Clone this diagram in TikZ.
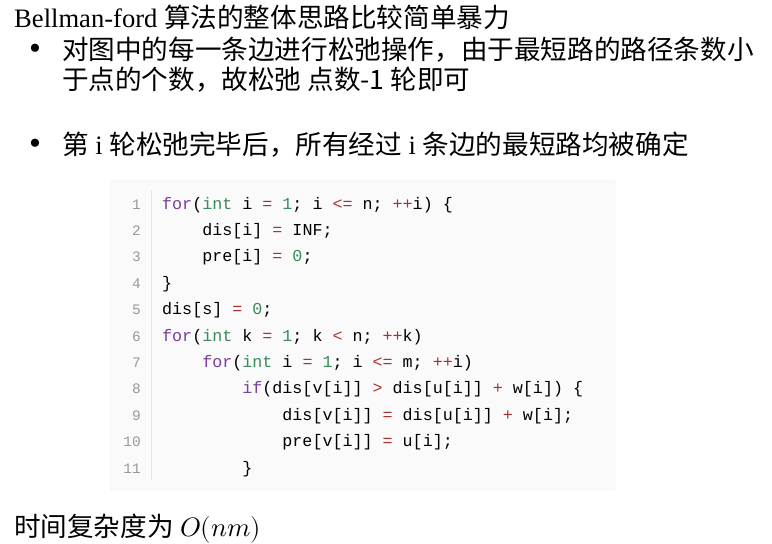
\documentclass[tikz,border=0pt]{standalone}
\usepackage{fontspec}
\setmainfont{Liberation Serif}
\setmonofont{Liberation Mono}
\newfontfamily\cjk{Noto Sans CJK SC}
\usepackage{unicode-math}
\definecolor{kwc}{HTML}{7A3E9D}
\definecolor{tyc}{HTML}{3A8A5A}
\definecolor{opc}{HTML}{A83232}
\definecolor{lnc}{HTML}{999999}
\newcommand{\kw}[1]{\textcolor{kwc}{#1}}
\newcommand{\ty}[1]{\textcolor{tyc}{#1}}
\newcommand{\op}[1]{\textcolor{opc}{#1}}
\begin{document}
\begin{tikzpicture}[x=1pt,y=-1pt,
  txt/.style={anchor=base west,inner sep=0,font=\fontsize{26.6}{30}\selectfont},
  code/.style={anchor=base west,inner sep=0,font=\ttfamily\fontsize{16.7}{18}\selectfont},
  lno/.style={anchor=base east,inner sep=0,text=lnc,font=\ttfamily\fontsize{14.5}{16}\selectfont}]
\useasboundingbox (0,0) rectangle (772,544);
\node[txt] (t1) at (14,27) {Bellman-ford {\cjk 算法的整体思路比较简单暴力}};
\node[txt] (b1) at (29,59) {\fontsize{34}{34}\selectfont •};
\node[txt] (l1) at (62,59) {\cjk 对图中的每一条边进行松弛操作，由于最短路的路径条数小};
\node[txt] (l2) at (62,89) {\cjk 于点的个数，故松弛 点数-1 轮即可};
\node[txt] (b2) at (29,154) {\fontsize{34}{34}\selectfont •};
\node[txt] (l3) at (62,154) {{\cjk 第} i {\cjk 轮松弛完毕后，所有经过} i {\cjk 条边的最短路均被确定}};
\node[txt] (t2) at (14,536) {{\cjk 时间复杂度为} $O(nm)$};
\draw[draw=black!6,fill=black!2,rounded corners=2pt] (110,180) rectangle (615,490);
\draw[black!10,line width=1pt] (151,190) -- (151,480);
\foreach \n in {1,...,11}{\node[lno] (n\n) at (141,{209+(\n-1)*26.4}) {\n};}
\node[code] (c1) at (162,209) {\kw{for}(\ty{int} i \op{=} \ty{1}; i \op{<=} n; \op{++}i) \{};
\node[code] (c2) at (162,235.4) {\ \ \ \ dis[i] \op{=} INF;};
\node[code] (c3) at (162,261.8) {\ \ \ \ pre[i] \op{=} \ty{0};};
\node[code] (c4) at (162,288.2) {\}};
\node[code] (c5) at (162,314.6) {dis[s] \op{=} \ty{0};};
\node[code] (c6) at (162,341) {\kw{for}(\ty{int} k \op{=} \ty{1}; k \op{<} n; \op{++}k)};
\node[code] (c7) at (162,367.4) {\ \ \ \ \kw{for}(\ty{int} i \op{=} \ty{1}; i \op{<=} m; \op{++}i)};
\node[code] (c8) at (162,393.8) {\ \ \ \ \ \ \ \ \kw{if}(dis[v[i]] \op{>} dis[u[i]] \op{+} w[i]) \{};
\node[code] (c9) at (162,420.2) {\ \ \ \ \ \ \ \ \ \ \ \ dis[v[i]] \op{=} dis[u[i]] \op{+} w[i];};
\node[code] (c10) at (162,446.6) {\ \ \ \ \ \ \ \ \ \ \ \ pre[v[i]] \op{=} u[i];};
\node[code] (c11) at (162,473) {\ \ \ \ \ \ \ \ \}};
\end{tikzpicture}
\end{document}
